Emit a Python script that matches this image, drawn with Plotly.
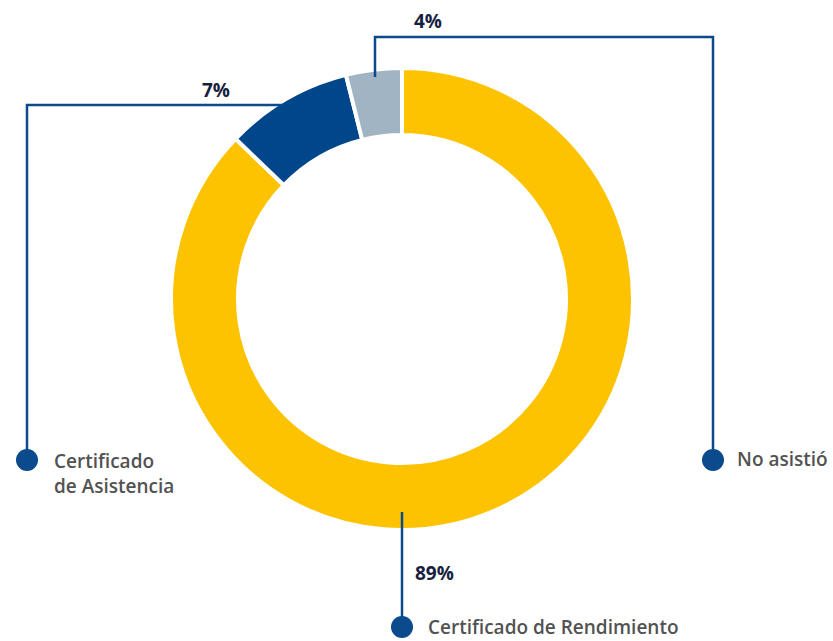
import plotly.graph_objects as go

# datos
categorias = ['Certificado de Rendimiento', 'Certificado de Asistencia', 'No asistió']
valores = [87.2, 8.9, 3.9]
etiquetas_pct = ['89%', '7%', '4%']
colores = ['#FDC300', '#00468A', '#A0B4C3']

W, H = 833, 641
cx, cy, r = 402, 299, 231
azul = '#0B4A8C'

fig = go.Figure()

fig.add_trace(go.Pie(
    labels=categorias,
    values=valores,
    hole=0.71,
    sort=False,
    direction='clockwise',
    rotation=0,
    marker=dict(colors=colores, line=dict(color='white', width=4)),
    textinfo='none',
    hoverinfo='label+percent',
    showlegend=False,
    domain=dict(x=[(cx - r) / W, (cx + r) / W],
                y=[(H - cy - r) / H, (H - cy + r) / H]),
))

# ejes invisibles en pixeles para las lineas guia
fig.update_xaxes(range=[0, W], visible=False, fixedrange=True)
fig.update_yaxes(range=[H, 0], visible=False, fixedrange=True)

lineas = [
    [(402, 512), (402, 627)],
    [(283, 105), (27, 105), (27, 460)],
    [(375, 77), (375, 37), (713, 37), (713, 460)],
]
for pts in lineas:
    path = 'M ' + ' L '.join(f'{x},{y}' for x, y in pts)
    fig.add_shape(type='path', path=path, xref='x', yref='y',
                  line=dict(color=azul, width=2.5))

for x, y in [(402, 627), (27, 460), (713, 460)]:
    fig.add_shape(type='circle', xref='x', yref='y',
                  x0=x - 11, x1=x + 11, y0=y - 11, y1=y + 11,
                  fillcolor=azul, line=dict(width=0))

pct_font = dict(family='Open Sans', size=19, color='#16213E', weight=700)
lab_font = dict(family='Open Sans', size=19, color='#525252', weight=600)

fig.add_annotation(x=413, y=573, text=etiquetas_pct[0], xanchor='left',
                   showarrow=False, font=pct_font)
fig.add_annotation(x=216, y=90, text=etiquetas_pct[1],
                   showarrow=False, font=pct_font)
fig.add_annotation(x=428, y=21, text=etiquetas_pct[2],
                   showarrow=False, font=pct_font)

fig.add_annotation(x=426, y=627, text='Certificado de Rendimiento', xanchor='left',
                   showarrow=False, font=lab_font)
fig.add_annotation(x=52, y=473, text='Certificado<br>de Asistencia', xanchor='left',
                   align='left', showarrow=False, font=lab_font)
fig.add_annotation(x=735, y=459, text='No asistió', xanchor='left',
                   showarrow=False, font=lab_font)

fig.update_layout(
    width=W, height=H,
    margin=dict(l=0, r=0, t=0, b=0),
    paper_bgcolor='white',
    plot_bgcolor='white',
)

fig.write_html('out.html', config={'displayModeBar': False},
               post_script="document.body.style.margin='0';")
